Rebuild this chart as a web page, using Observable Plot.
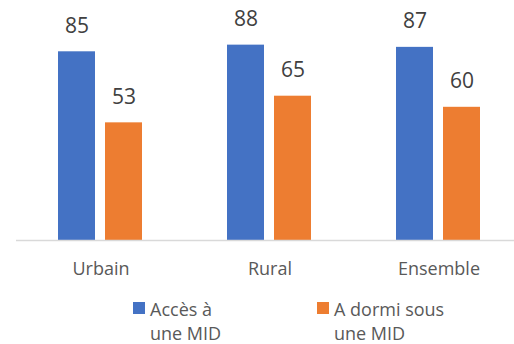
<!DOCTYPE html>
<html lang="fr">
<head>
<meta charset="utf-8">
<script src="https://cdn.jsdelivr.net/npm/d3@7"></script>
<script src="https://cdn.jsdelivr.net/npm/@observablehq/plot@0.6"></script>
<style>
  html, body { margin: 0; padding: 0; background: #fff; overflow: hidden; }
  #chart { position: relative; width: 514px; height: 344px; font-family: "Open Sans", sans-serif; }
  .legend { position: relative; height: 54px; }
  .legend-item { position: absolute; top: 7px; font-size: 18px; line-height: 24px; color: #595959; }
  .legend-swatch { position: absolute; top: 5px; width: 12px; height: 12px; }
  .legend-label { position: absolute; white-space: nowrap; }
</style>
</head>
<body>
<div id="chart"></div>
<script>
// Milieu de résidence
const categories = ["Urbain", "Rural", "Ensemble"];
// Séries (pourcentages)
const series = ["Accès à une MID", "A dormi sous une MID"];
const acces = [85, 88, 87];
const dormi = [53, 65, 60];
// Libellés de légende, coupés sur deux lignes
const legendLines = [["Accès à", "une MID"], ["A dormi sous", "une MID"]];
const colors = ["#4472C4", "#ED7D31"];

const values = [acces, dormi];
const rows = categories.flatMap((c, i) =>
  series.map((s, j) => ({category: c, series: s, value: values[j][i]}))
);

const chart = Plot.plot({
  width: 514,
  height: 290,
  marginTop: 18,
  marginBottom: 50,
  marginLeft: 15,
  marginRight: 0,
  facet: {marginTop: 0, marginRight: 0, marginBottom: 0, marginLeft: 0},
  style: {fontFamily: "'Open Sans', sans-serif", color: "#595959", background: "#fff", maxWidth: "none", overflow: "visible"},
  fx: {domain: categories, range: [15, 523], padding: 0, label: null},
  x: {domain: series, paddingInner: 0.2083, paddingOuter: 0.868, axis: null},
  y: {domain: [0, 100], axis: null},
  color: {domain: series, range: colors},
  marks: [
    Plot.barY(rows, {fx: "category", x: "series", y: "value", fill: "series"}),
    Plot.ruleY([0], {stroke: "#d9d9d9", strokeWidth: 1.5}),
    Plot.text(rows, {
      fx: "category", x: "series", y: "value", text: "value",
      lineAnchor: "bottom", dy: -19, fontSize: 21, fill: "#404040"
    }),
    Plot.axisFx({anchor: "bottom", tickSize: 0, tickPadding: 22, fontSize: 18, label: null})
  ]
});

const root = document.getElementById("chart");
root.appendChild(chart);

// Légende sous le graphique
const legend = document.createElement("div");
legend.className = "legend";
const legendLeft = [133, 317];
series.forEach((s, j) => {
  const item = document.createElement("div");
  item.className = "legend-item";
  item.style.left = legendLeft[j] + "px";
  const sw = document.createElement("div");
  sw.className = "legend-swatch";
  sw.style.background = colors[j];
  sw.style.left = "0px";
  const lab = document.createElement("div");
  lab.className = "legend-label";
  lab.style.left = "17px";
  lab.innerHTML = legendLines[j].join("<br>");
  item.appendChild(sw);
  item.appendChild(lab);
  legend.appendChild(item);
});
root.appendChild(legend);
</script>
</body>
</html>
